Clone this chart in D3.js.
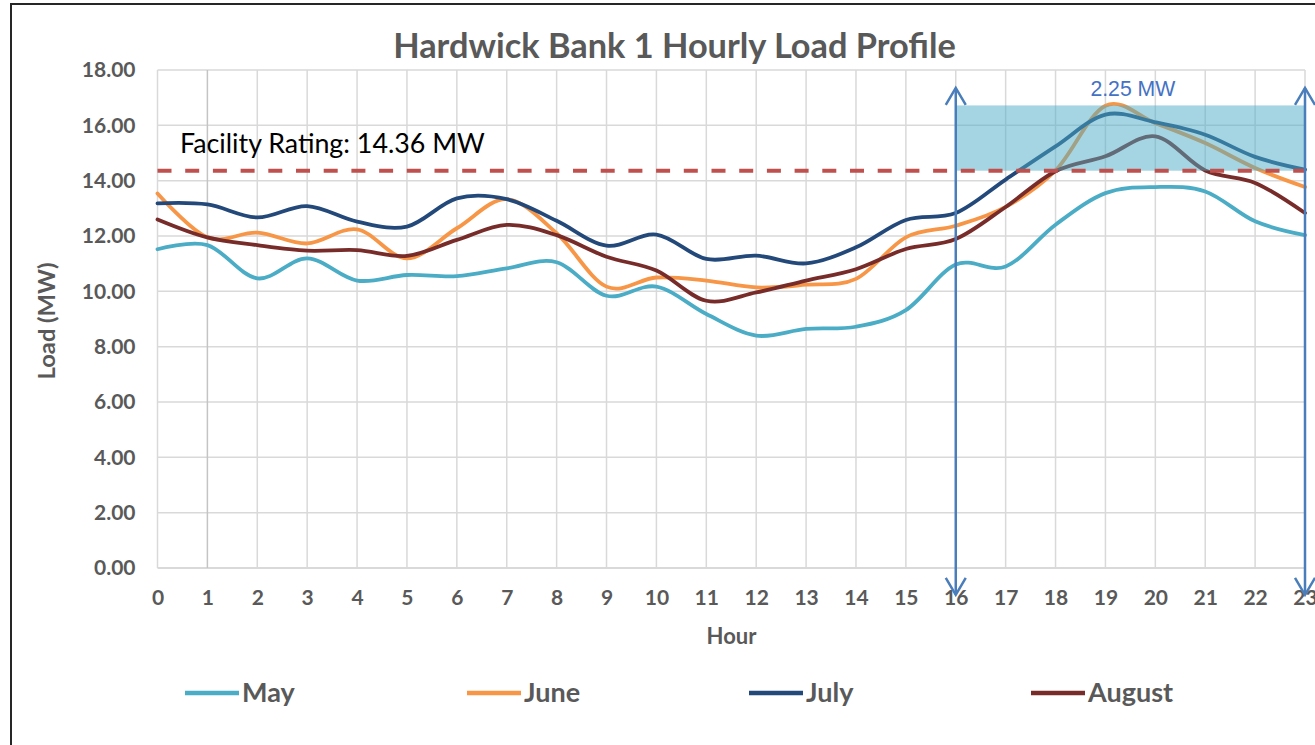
<!DOCTYPE html>
<html>
<head>
<meta charset="utf-8">
<script src="https://cdn.jsdelivr.net/npm/d3@7"></script>
<style>
  body { margin: 0; background: #fff; }
  svg { display: block; }
  text { font-family: Lato, "Open Sans", sans-serif; }
</style>
</head>
<body>
<svg width="1315" height="745"></svg>
<script>
var hours = [0, 1, 2, 3, 4, 5, 6, 7, 8, 9, 10, 11, 12, 13, 14, 15, 16, 17, 18, 19, 20, 21, 22, 23];
var yTicks = [0, 2, 4, 6, 8, 10, 12, 14, 16, 18];

var may    = [11.52, 11.67, 10.47, 11.19, 10.39, 10.59, 10.55, 10.83, 11.05, 9.84, 10.17, 9.18, 8.40, 8.64, 8.72, 9.32, 10.97, 10.90, 12.41, 13.55, 13.77, 13.61, 12.53, 12.03];
var june   = [13.54, 11.95, 12.12, 11.73, 12.24, 11.19, 12.28, 13.33, 12.10, 10.17, 10.50, 10.39, 10.14, 10.24, 10.45, 11.95, 12.37, 13.05, 14.37, 16.71, 16.08, 15.36, 14.46, 13.77];
var july   = [13.18, 13.14, 12.67, 13.08, 12.52, 12.34, 13.36, 13.33, 12.55, 11.65, 12.05, 11.17, 11.29, 11.01, 11.59, 12.58, 12.83, 14.04, 15.24, 16.39, 16.11, 15.66, 14.86, 14.40];
var august = [12.60, 11.95, 11.67, 11.47, 11.49, 11.28, 11.86, 12.40, 12.03, 11.25, 10.75, 9.66, 9.96, 10.39, 10.80, 11.53, 11.89, 13.05, 14.34, 14.88, 15.60, 14.37, 13.92, 12.83];

var seriesNames = ["May", "June", "July", "August"];
var seriesColors = ["#4BACC6", "#F79646", "#23497A", "#772C2A"];

var facilityRating = 14.36;
var peakLoad = 16.72;
var bandHours = [16, 23];
var bandLabel = "2.25 MW";
var arrowSpan = [-0.97, 17.35];

var svg = d3.select("svg");
var gray = "#595959";

var x = d3.scaleLinear().domain([0, 23]).range([157.5, 1305]);
var y = d3.scaleLinear().domain([0, 18]).range([568, 70]);

// chart area outline (cropped in the original)
svg.append("rect")
    .attr("x", 11).attr("y", 4)
    .attr("width", 1400).attr("height", 800)
    .attr("fill", "none")
    .attr("stroke", "#262626")
    .attr("stroke-width", 2);

// grid
var grid = svg.append("g");
grid.selectAll(".hgrid")
    .data(yTicks)
    .enter().append("line")
    .attr("x1", x(0)).attr("x2", x(23))
    .attr("y1", function(d) { return y(d); })
    .attr("y2", function(d) { return y(d); })
    .attr("stroke", "#D9D9D9")
    .attr("stroke-width", function(d) { return d === 0 ? 2 : 1.5; });

grid.selectAll(".vgrid")
    .data(hours)
    .enter().append("line")
    .attr("x1", function(d) { return x(d); })
    .attr("x2", function(d) { return x(d); })
    .attr("y1", y(18)).attr("y2", y(0))
    .attr("stroke", function(d) { return d === 1 ? "#C4C4C4" : "#D9D9D9"; })
    .attr("stroke-width", 1.5);

// axes
var yAxis = svg.append("g")
    .attr("transform", "translate(" + (x(0) - 12) + ",0)")
    .call(d3.axisLeft(y).tickValues(yTicks).tickFormat(d3.format(".2f")).tickSize(0).tickPadding(10));
var xAxis = svg.append("g")
    .attr("transform", "translate(0," + y(0) + ")")
    .call(d3.axisBottom(x).tickValues(hours).tickFormat(d3.format("d")).tickSize(0).tickPadding(22));

[yAxis, xAxis].forEach(function(a) {
    a.select(".domain").remove();
    a.selectAll("text")
        .attr("fill", gray)
        .attr("font-size", 21)
        .attr("font-weight", "bold")
        .style("font-family", "Lato, sans-serif");
});

// load lines
var allSeries = [may, june, july, august];
var line = d3.line()
    .x(function(d, i) { return x(hours[i]); })
    .y(function(d) { return y(d); })
    .curve(d3.curveCardinal.tension(0));

svg.append("g").selectAll("path")
    .data(allSeries)
    .enter().append("path")
    .attr("d", line)
    .attr("fill", "none")
    .attr("stroke", function(d, i) { return seriesColors[i]; })
    .attr("stroke-width", 3.8)
    .attr("stroke-linejoin", "round")
    .attr("stroke-linecap", "round");

// overload band
svg.append("rect")
    .attr("x", x(bandHours[0]))
    .attr("y", y(peakLoad))
    .attr("width", x(bandHours[1]) - x(bandHours[0]))
    .attr("height", y(facilityRating) - y(peakLoad))
    .attr("fill", "#4BACC6")
    .attr("fill-opacity", 0.5);

// facility rating
svg.append("line")
    .attr("x1", x(0)).attr("x2", x(23))
    .attr("y1", y(facilityRating)).attr("y2", y(facilityRating))
    .attr("stroke", "#C0504D")
    .attr("stroke-width", 4)
    .attr("stroke-dasharray", "14,13.7");

var rating = svg.append("text")
    .attr("x", 180).attr("y", 153)
    .attr("font-size", 24)
    .attr("fill", "#000")
    .text("Facility Rating: " + facilityRating + " MW");
fitText(rating, 305);

// double arrows at band edges
var arrows = svg.append("g")
    .attr("stroke", "#4A7EBB")
    .attr("stroke-width", 2.5)
    .attr("fill", "none");
bandHours.forEach(function(h) {
    var ax = x(h), top = y(arrowSpan[1]), bot = y(arrowSpan[0]);
    arrows.append("line")
        .attr("x1", ax).attr("x2", ax)
        .attr("y1", top).attr("y2", bot);
    arrows.append("path")
        .attr("d", "M" + (ax - 10) + "," + (top + 17) + "L" + ax + "," + top + "L" + (ax + 10) + "," + (top + 17));
    arrows.append("path")
        .attr("d", "M" + (ax - 10) + "," + (bot - 17) + "L" + ax + "," + bot + "L" + (ax + 10) + "," + (bot - 17));
});

var band = svg.append("text")
    .attr("x", x(19.55)).attr("y", 96)
    .attr("text-anchor", "middle")
    .attr("font-size", 21)
    .style("font-family", "'Liberation Sans', Arial, sans-serif")
    .attr("fill", "#4472C4")
    .text(bandLabel);
fitText(band, 85);

// titles
var title = svg.append("text")
    .attr("x", 674.5).attr("y", 58)
    .attr("text-anchor", "middle")
    .attr("font-size", 30)
    .attr("font-weight", "bold")
    .attr("fill", gray)
    .text("Hardwick Bank 1 Hourly Load Profile");
fitText(title, 563);

svg.append("text")
    .attr("x", 731.5).attr("y", 644)
    .attr("text-anchor", "middle")
    .attr("font-size", 22)
    .attr("font-weight", "bold")
    .attr("fill", gray)
    .text("Hour");

var ylab = svg.append("text")
    .attr("transform", "translate(55,321) rotate(-90)")
    .attr("text-anchor", "middle")
    .attr("font-size", 21)
    .attr("font-weight", "bold")
    .attr("fill", gray)
    .text("Load (MW)");
fitText(ylab, 117);

// legend
var legend = svg.append("g").selectAll("g")
    .data(seriesNames)
    .enter().append("g")
    .attr("transform", function(d, i) { return "translate(" + (185 + i * 282) + ",693)"; });
legend.append("line")
    .attr("x1", 0).attr("x2", 54)
    .attr("stroke", function(d, i) { return seriesColors[i]; })
    .attr("stroke-width", 4.5);
legend.append("text")
    .attr("x", 57).attr("y", 9)
    .attr("font-size", 27)
    .attr("font-weight", "bold")
    .attr("fill", gray)
    .text(function(d) { return d; });

function fitText(sel, w) {
    var len = sel.node().getComputedTextLength();
    var fs = parseFloat(sel.attr("font-size"));
    sel.attr("font-size", (fs * w / len).toFixed(2));
}
</script>
</body>
</html>
